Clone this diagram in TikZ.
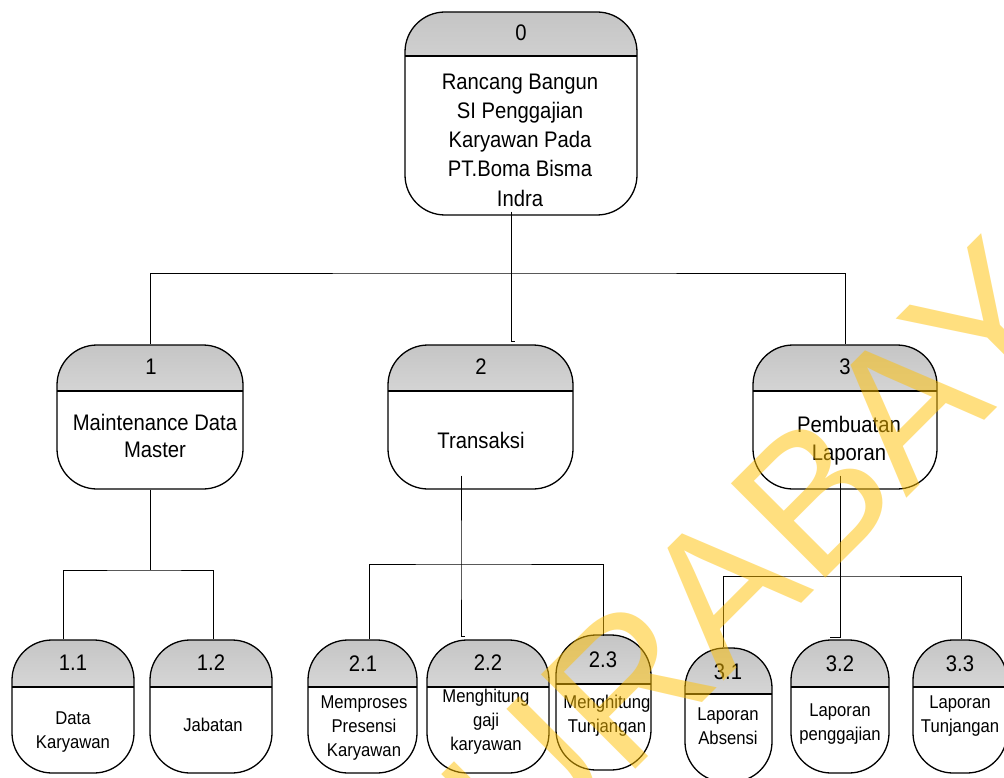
\documentclass[tikz,border=0pt]{standalone}
\usepackage{fontspec}
\setmainfont{Liberation Sans}[FakeStretch=0.9]
\newfontfamily\wmfont{Liberation Sans}
\definecolor{hdrtop}{gray}{0.77}
\definecolor{hdrbot}{gray}{0.96}
\definecolor{wmyellow}{RGB}{255,192,0}
\pgfdeclareverticalshading{hdrgrad}{100bp}{color(0bp)=(hdrbot); color(25bp)=(hdrbot); color(75bp)=(hdrtop); color(100bp)=(hdrtop)}
\tikzset{
  hdr/.store in=\hdrh, hdr=46,
  proc/.style={draw=black, line width=1.3pt, rounded corners=40pt, inner sep=0pt, fill=white,
    path picture={
      \shade[shading=hdrgrad, sharp corners]
        ([yshift=2pt]path picture bounding box.north west) rectangle ([yshift=-\hdrh pt]path picture bounding box.north east);
      \draw[line width=1.6pt, sharp corners] ([yshift=-\hdrh pt]path picture bounding box.north west) -- ([yshift=-\hdrh pt]path picture bounding box.north east);
    }},
  numtxt/.style={inner sep=0pt, font=\fontsize{22.5}{27}\selectfont},
  bigtxt/.style={inner sep=0pt, align=center, font=\fontsize{22.5}{29.3}\selectfont},
  midtxt/.style={inner sep=0pt, align=center, font=\fontsize{22.5}{27.5}\selectfont},
  smalltxt/.style={inner sep=0pt, align=center, font=\fontsize{18.5}{24}\selectfont},
  conn/.style={draw=black, line width=1pt},
}
\begin{document}
\begin{tikzpicture}[x=1pt,y=-1pt]
\useasboundingbox[fill=white] (0,0) rectangle (1004,778);

% boxes
\node[proc, minimum width=232, minimum height=203, hdr=44] (n0) at (521,113.5) {};
\node[proc, minimum width=186, minimum height=144, hdr=46] (n1) at (150,417) {};
\node[proc, minimum width=185, minimum height=144, hdr=46] (n2) at (480.5,417) {};
\node[proc, minimum width=184, minimum height=144, hdr=46] (n3) at (845,417) {};
\node[proc, minimum width=122, minimum height=133, hdr=47] (n11) at (73,706.5) {};
\node[proc, minimum width=122, minimum height=133, hdr=47] (n12) at (211,706.5) {};
\node[proc, minimum width=109, minimum height=133, hdr=47] (n21) at (362.5,706.5) {};
\node[proc, minimum width=122, minimum height=133, hdr=47] (n22) at (488,706.5) {};
\node[proc, minimum width=95, minimum height=135, hdr=49] (n23) at (603.5,702.5) {};
\node[proc, minimum width=87, minimum height=134, hdr=46] (n31) at (728.5,715) {};
\node[proc, minimum width=98, minimum height=133, hdr=47] (n32) at (840,706.5) {};
\node[proc, minimum width=94, minimum height=133, hdr=47] (n33) at (960,706.5) {};

% texts
\node[numtxt] (t0) at (521,33) {0};
\node[bigtxt] (d0) at (520,140) {Rancang Bangun\\SI Penggajian\\Karyawan Pada\\PT.Boma Bisma\\Indra};
\node[numtxt] (t1) at (151,367) {1};
\node[midtxt] (d1) at (155,436) {Maintenance Data\\Master};
\node[numtxt] (t2) at (481,367) {2};
\node[midtxt] (d2) at (481,440) {Transaksi};
\node[numtxt] (t3) at (845,367) {3};
\node[midtxt] (d3) at (849,440.5) {Pembuatan\\Laporan};

\node[numtxt] (t11) at (73,663) {1.1};
\node[smalltxt] (d11) at (73,732) {Data\\Karyawan};
\node[numtxt] (t12) at (211,663) {1.2};
\node[smalltxt] (d12) at (213,725) {Jabatan};
\node[numtxt] (t21) at (363,664) {2.1};
\node[smalltxt] (d21) at (364,728) {Memproses\\Presensi\\Karyawan};
\node[numtxt] (t22) at (488,663) {2.2};
\node[smalltxt] (d22) at (486,722) {Menghitung\\gaji\\karyawan};
\node[numtxt] (t23) at (603,660) {2.3};
\node[smalltxt] (d23) at (607,716) {Menghitung\\Tunjangan};
\node[numtxt] (t31) at (728,672) {3.1};
\node[smalltxt] (d31) at (728,726) {Laporan\\Absensi};
\node[numtxt] (t32) at (840,664) {3.2};
\node[smalltxt] (d32) at (840,724) {Laporan\\penggajian};
\node[numtxt] (t33) at (960,664) {3.3};
\node[smalltxt] (d33) at (960,716) {Laporan\\Tunjangan};

% connectors level 0
\coordinate (b0) at (511,273);
\draw[conn] ([xshift=-10pt,yshift=4pt]n0.south) -- (b0);
\draw[conn] (n1.north) |- (b0) -| (n3.north);
\draw[conn] (b0) -- ([yshift=3pt]b0 |- n2.north) -- ++(4,0);

% connectors level 1
\coordinate (b1) at (150,570);
\draw[conn] (n1.south) -- (b1);
\draw[conn] ([xshift=-10pt]n11.north) |- (b1) -| ([xshift=2pt]n12.north);

\coordinate (b2) at (461,564);
\draw[conn] ([xshift=-19.5pt,yshift=14pt]n2.south) -- (b2) -- ([yshift=3pt]b2 |- n22.north) -- ++(4,0);
\draw[conn] ([xshift=6.5pt]n21.north) |- (b2) -| ([yshift=-2pt]n23.north);

\coordinate (b3) at (840,576);
\draw[conn] ([xshift=-5pt,yshift=14pt]n3.south) -- (b3) -- ([yshift=2pt]b3 |- n32.north) -- ++(-10,0);
\draw[conn] ([xshift=-5.5pt]n31.north) |- (b3) -| ([xshift=1pt]n33.north);

% watermark
\node[rotate=45, inner sep=0pt, text=wmyellow, text opacity=0.5, font=\wmfont\fontsize{194}{194}\selectfont] (wm) at (750,560) {SURABAYA};
\end{tikzpicture}
\end{document}
